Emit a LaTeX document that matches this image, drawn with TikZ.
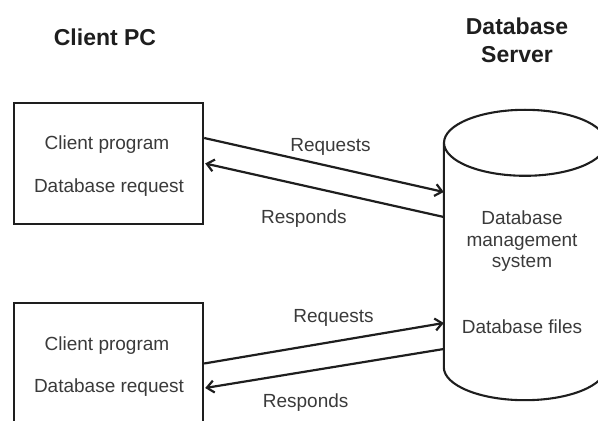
\documentclass[tikz,border=0pt]{standalone}
\usepackage{fontspec}
\setmainfont{Liberation Sans}
\usepackage{xcolor}
\usepackage{tikz}
\usetikzlibrary{arrows.meta}

\definecolor{ink}{HTML}{1E1E1E}
\definecolor{txt}{HTML}{3A3A3A}

\tikzset{
  pc/.style={draw=ink,line width=2.4pt,minimum width=189pt,minimum height=121pt},
  title/.style={font=\fontsize{23}{28}\selectfont\bfseries,text=ink,align=center},
  lbl/.style={font=\fontsize{19}{22}\selectfont,text=txt,inner sep=0pt},
  msg/.style={draw=ink,line width=2.2pt,-{Straight Barb[length=7pt,width=12pt]}}
}

\begin{document}
\begin{tikzpicture}[x=1pt,y=1pt,every node/.style={align=center}]
    \useasboundingbox (0,0) rectangle (598,421);
    \node[title] (T1) at (105,384) {Client PC};
    \node[title] (T2) at (517,381) {Database\\Server};
    \node[pc] (C1) at (108.5,257.5) {};
    \node[pc] (C2) at (108.5,57.5) {};
    \node[lbl] (P1) at (107,276) {Client program};
    \node[lbl] (Q1) at (109,233) {Database request};
    \node[lbl] (P2) at (107,75) {Client program};
    \node[lbl] (Q2) at (109,33) {Database request};
    \node[minimum width=162pt,minimum height=290pt,inner sep=0pt] (S) at (525,166) {};
    \draw[draw=ink,line width=2.1pt] ([yshift=-33pt]S.north west) -- ([yshift=33pt]S.south west)
        arc[start angle=180,end angle=360,x radius=81pt,y radius=33pt] -- ([yshift=-33pt]S.north east);
    \draw[draw=ink,line width=2.1pt] ([yshift=-33pt]S.north) ellipse[x radius=81pt,y radius=33pt];
    \node[lbl,font=\fontsize{19}{21.5}\selectfont] (M) at (522,179.5) {Database\\management\\system};
    \node[lbl] (F) at (522,94) {Database files};
    \draw[msg] ([yshift=25.5pt]C1.east) -- node[lbl,pos=.527,above=10pt] {Requests} ([yshift=63pt]S.west);
    \draw[msg] ([yshift=38pt]S.west) -- node[lbl,pos=.586,below=22.5pt] {Responds} ([xshift=1pt]C1.east);
    \draw[msg] (C2.east) -- node[lbl,pos=.54,above=14pt] {Requests} ([yshift=-68pt]S.west);
    \draw[msg] ([yshift=-94pt]S.west) -- node[lbl,pos=.579,below=21.5pt] {Responds} ([xshift=1pt,yshift=-24.5pt]C2.east);
\end{tikzpicture}
\end{document}
